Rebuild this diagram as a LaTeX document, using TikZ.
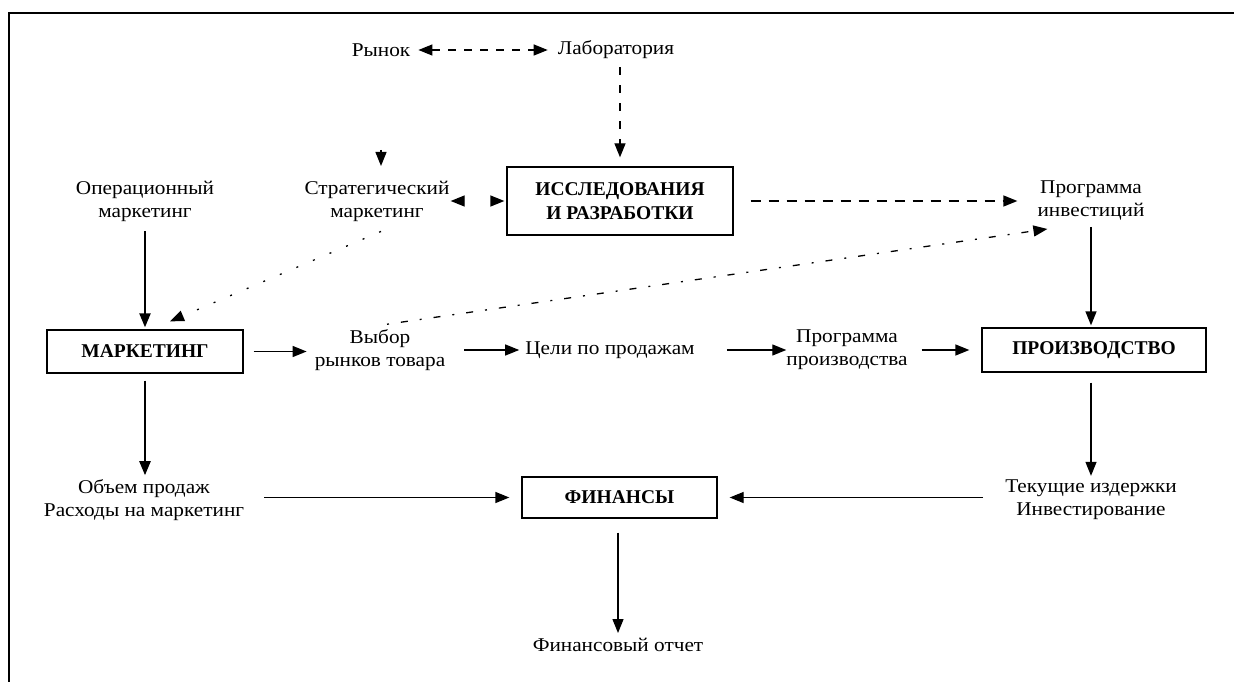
\documentclass[tikz,border=0pt]{standalone}
\usepackage{fontspec}
\setmainfont{Liberation Serif}
\newfontfamily\lblfont[FakeStretch=1.09]{Liberation Serif}
\usetikzlibrary{arrows.meta,calc}
\begin{document}
\begin{tikzpicture}[x=1pt,y=-1pt,
  lbl/.style={font=\lblfont\fontsize{19.5}{23}\selectfont, align=center, inner sep=0pt},
  boxnode/.style={draw, line width=1.3pt, font=\bfseries\fontsize{19.5}{24}\selectfont, align=center, inner sep=0pt},
  tipshape/.style={},
  arr/.style={line width=1.3pt, -{Triangle[length=14pt,width=11pt]}},
  thickarr/.style={arr, line width=2.2pt},
  dasharr/.style={arr, dash pattern=on 10pt off 8pt},
  bothtips/.style={line width=1.3pt, {Triangle[length=14pt,width=11pt]}-{Triangle[length=14pt,width=11pt]}},
  frame/.style={line width=1.5pt}
]
\useasboundingbox (0,0) rectangle (1234,682);
\fill[white] (0,0) rectangle (1234,682);

% frame
\coordinate (ftl) at (9,13);
\coordinate (ftr) at (1234,13);
\coordinate (fbl) at (9,682);
\draw[frame] (ftr) -- (ftl) -- (fbl);

% nodes
\node[lbl] (rynok) at (381,50) {Рынок};
\node[lbl] (lab) at (616,50) {Лаборатория};
\node[boxnode, minimum width=226pt, minimum height=68pt] (rd) at (620,201) {ИССЛЕДОВАНИЯ\\И РАЗРАБОТКИ};
\node[lbl] (oper) at (145,201) {Операционный\\маркетинг};
\node[lbl] (strat) at (377,201) {Стратегический\\маркетинг};
\node[lbl] (invest) at (1091,201) {Программа\\инвестиций};
\node[boxnode, minimum width=196pt, minimum height=43pt] (mkt) at (145,351.5) {МАРКЕТИНГ};
\node[lbl] (vybor) at (380,350) {Выбор\\рынков товара};
\node[lbl] (celi) at (610,350) {Цели по продажам};
\node[lbl] (progpr) at (847,350) {Программа\\производства};
\node[boxnode, minimum width=224pt, minimum height=44pt] (prod) at (1094,350) {ПРОИЗВОДСТВО};
\node[lbl] (obem) at (144,500) {Объем продаж\\Расходы на маркетинг};
\node[boxnode, minimum width=195pt, minimum height=41pt] (fin) at (619.5,497.5) {ФИНАНСЫ};
\node[lbl] (tek) at (1091,500) {Текущие издержки\\Инвестирование};
\node[lbl] (otchet) at (618,645) {Финансовый отчет};

% top connectors
\draw[bothtips, dash pattern=on 8pt off 8pt, shorten <=8pt, shorten >=10pt] (rynok) -- (lab);
\draw[arr, dash pattern=on 8pt off 10pt, shorten >=9pt] ([yshift=-8pt]lab.south -| rd.north) -- (rd.north);
\coordinate (lonetop) at (381,150);
\coordinate (lonetip) at (381,166);
\draw[arr] (lonetop) -- (lonetip);
\draw[bothtips, dash pattern=on 0pt off 100pt, shorten <=1pt, shorten >=2pt] (strat.east) -- (rd.west);
\draw[dasharr, shorten <=17pt, shorten >=20pt] (rd.east) -- (invest.west |- rd.east);

% left column
\draw[thickarr, shorten <=10pt, shorten >=2pt] (oper.south) -- (mkt.north);
\coordinate (dotend) at ($(mkt.north)+(25,-8)$);
\draw[arr, dash pattern=on 2pt off 16pt] ([xshift=4pt,yshift=-10pt]strat.south) -- (dotend);
\draw[thickarr, shorten <=7pt, shorten >=4pt] (mkt.south) -- (obem.north -| mkt.south);

% long dotted-dashed
\coordinate (invtip) at ($(invest.south west)+(10,8)$);
\draw[arr, dash pattern=on 2pt off 12pt on 7pt off 12pt] ([xshift=7pt,yshift=5pt]vybor.north) -- (invtip);

% right column
\draw[arr, shorten <=6pt, shorten >=2pt] (invest.south) -- (invest.south |- prod.north);
\draw[arr, shorten <=10pt, shorten >=4pt] (prod.south -| tek.north) -- (tek.north);

% middle row
\draw[arr, shorten <=10pt, shorten >=8pt] (mkt.east) -- (vybor.west |- mkt.east);
\draw[arr, shorten <=19pt, shorten >=6pt] (vybor.east |- celi.west) -- (celi.west);
\draw[arr, shorten <=32pt, shorten >=0pt] (celi.east) -- (progpr.west |- celi.east);
\draw[arr, shorten <=14pt, shorten >=12pt] (progpr.east |- prod.west) -- (prod.west);

% bottom row
\draw[arr, shorten <=20pt, shorten >=12pt] (obem.east |- fin.west) -- (fin.west);
\draw[arr, shorten <=22pt, shorten >=12pt] (tek.west |- fin.east) -- (fin.east);
\draw[arr, shorten <=14pt, shorten >=5pt] (fin.south -| otchet.north) -- (otchet.north);
\end{tikzpicture}
\end{document}
